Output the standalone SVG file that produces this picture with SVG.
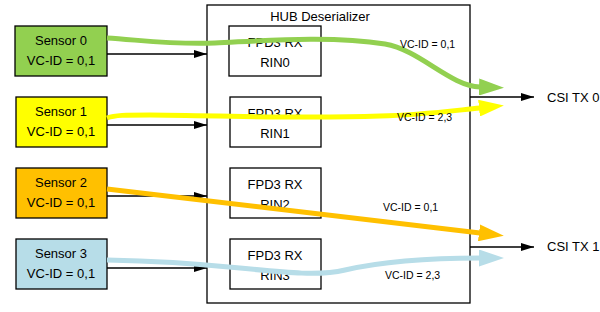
<svg xmlns="http://www.w3.org/2000/svg" width="600" height="312" viewBox="0 0 600 312">
<style>
.box{stroke:#000;stroke-width:1.3}
.rx{fill:#fff;stroke:#000;stroke-width:1.3}
.t{font-family:"Liberation Sans",Arial,sans-serif;font-size:13px;fill:#000;text-anchor:middle}
.s{font-family:"Liberation Sans",Arial,sans-serif;font-size:10.5px;fill:#000}
.c{stroke:#000;stroke-width:1.3;fill:none}
.f{fill:none;stroke-width:5}
</style>
<defs>
<marker id="ab" markerUnits="userSpaceOnUse" markerWidth="14" markerHeight="8" refX="13" refY="4" orient="auto"><path d="M0,0 L13,4 L0,8 z" fill="#000"/></marker>
<marker id="mg" markerUnits="userSpaceOnUse" markerWidth="26" markerHeight="17" refX="1" refY="8.5" orient="auto"><path d="M0,0 L25,8.5 L0,17 z" fill="#92D050"/></marker>
<marker id="my" markerUnits="userSpaceOnUse" markerWidth="26" markerHeight="17" refX="1" refY="8.5" orient="auto"><path d="M0,0 L25,8.5 L0,17 z" fill="#FFFF00"/></marker>
<marker id="mo" markerUnits="userSpaceOnUse" markerWidth="26" markerHeight="17" refX="1" refY="8.5" orient="auto"><path d="M0,0 L25,8.5 L0,17 z" fill="#FFC000"/></marker>
<marker id="mb" markerUnits="userSpaceOnUse" markerWidth="26" markerHeight="17" refX="1" refY="8.5" orient="auto"><path d="M0,0 L25,8.5 L0,17 z" fill="#B7DDE8"/></marker>
</defs>
<rect width="600" height="312" fill="#fff"/>
<g id="hub">
<rect x="207" y="5" width="263" height="298" fill="#fff" stroke="#000" stroke-width="1.3"/>
<text class="t" x="320" y="21">HUB Deserializer</text>
</g>
<g id="sensor0"><rect class="box" x="15" y="26" width="92" height="50" fill="#92D050"/><text class="t" x="61" y="45">Sensor 0</text><text class="t" x="61" y="65">VC-ID = 0,1</text></g>
<g id="sensor1"><rect class="box" x="16" y="97" width="91" height="50" fill="#FFFF00"/><text class="t" x="61" y="116">Sensor 1</text><text class="t" x="61" y="136">VC-ID = 0,1</text></g>
<g id="sensor2"><rect class="box" x="16" y="168" width="91" height="50" fill="#FFC000"/><text class="t" x="61" y="187">Sensor 2</text><text class="t" x="61" y="207">VC-ID = 0,1</text></g>
<g id="sensor3"><rect class="box" x="16" y="239" width="91" height="50" fill="#B7DDE8"/><text class="t" x="61" y="258">Sensor 3</text><text class="t" x="61" y="278">VC-ID = 0,1</text></g>
<g id="rin0"><rect class="rx" x="229" y="26" width="92" height="50"/><text class="t" x="275" y="47">FPD3 RX</text><text class="t" x="275" y="67">RIN0</text></g>
<g id="rin1"><rect class="rx" x="230" y="97" width="91" height="50"/><text class="t" x="275" y="118">FPD3 RX</text><text class="t" x="275" y="138">RIN1</text></g>
<g id="rin2"><rect class="rx" x="230" y="168" width="91" height="50"/><text class="t" x="275" y="189">FPD3 RX</text><text class="t" x="275" y="209">RIN2</text></g>
<g id="rin3"><rect class="rx" x="230" y="239" width="91" height="50"/><text class="t" x="275" y="260">FPD3 RX</text><text class="t" x="275" y="280">RIN3</text></g>
<g id="csi0"><text class="t" x="547" y="102" style="text-anchor:start">CSI TX 0</text></g>
<g id="csi1"><text class="t" x="547" y="251" style="text-anchor:start">CSI TX 1</text></g>
<g id="connectors">
<path class="c" d="M107,54 H207" marker-end="url(#ab)"/>
<path class="c" d="M107,125 H207" marker-end="url(#ab)"/>
<path class="c" d="M107,196 H207" marker-end="url(#ab)"/>
<path class="c" d="M107,268 H207" marker-end="url(#ab)"/>
<path class="c" d="M470,97 H534" marker-end="url(#ab)"/>
<path class="c" d="M470,247 H534" marker-end="url(#ab)"/>
<path class="f" stroke="#92D050" d="M107,38 C140,40 175,45 215,43 C260,41 330,35 385,44 C420,50 450,86 480,87" marker-end="url(#mg)"/>
<path class="f" stroke="#FFFF00" d="M107,118 C115,115 125,115 150,115 C250,116 300,119 380,116 C420,115 450,111 480,108" marker-end="url(#my)"/>
<path class="f" stroke="#FFC000" d="M107,189 L480,233" marker-end="url(#mo)"/>
<path class="f" stroke="#B7DDE8" d="M107,260 C160,261 200,264 240,268 C290,273 320,276 345,270 C380,262 430,258 480,258" marker-end="url(#mb)"/>
</g>
<g id="labels">
<text class="s" x="400" y="48">VC-ID = 0,1</text>
<text class="s" x="397" y="121">VC-ID = 2,3</text>
<text class="s" x="383" y="211">VC-ID = 0,1</text>
<text class="s" x="385" y="279">VC-ID = 2,3</text>
</g>
</svg>
